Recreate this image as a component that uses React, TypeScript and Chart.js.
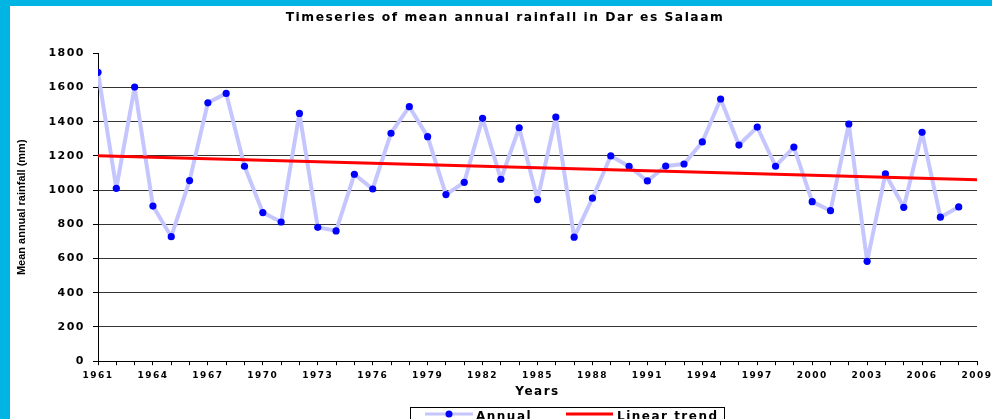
import React, { useEffect, useRef } from 'react';
import { Chart, registerables } from 'chart.js';

Chart.register(...registerables);

const chartTitle = 'Timeseries of mean annual rainfall in Dar es Salaam';
const xAxisTitle = 'Years';
const yAxisTitle = 'Mean annual rainfall (mm)';

const years = [
  1961, 1962, 1963, 1964, 1965, 1966, 1967, 1968, 1969, 1970,
  1971, 1972, 1973, 1974, 1975, 1976, 1977, 1978, 1979, 1980,
  1981, 1982, 1983, 1984, 1985, 1986, 1987, 1988, 1989, 1990,
  1991, 1992, 1993, 1994, 1995, 1996, 1997, 1998, 1999, 2000,
  2001, 2002, 2003, 2004, 2005, 2006, 2007, 2008,
];

const annualRainfall = [
  1689, 1011, 1603, 907, 728, 1056, 1511, 1566, 1140, 869,
  814, 1449, 783, 762, 1093, 1007, 1333, 1488, 1313, 974,
  1046, 1420, 1064, 1365, 945, 1428, 725, 953, 1200, 1140,
  1054, 1141, 1153, 1282, 1533, 1264, 1369, 1140, 1252, 933,
  880, 1387, 584, 1095, 900, 1338, 842, 902,
];

const trendYears = [1961, 2009];
const trendValues = [1202, 1061];

const xTickLabels = [
  '1961', '1964', '1967', '1970', '1973', '1976', '1979', '1982', '1985',
  '1988', '1991', '1994', '1997', '2000', '2003', '2006', '2009',
];
const yTickValues = [0, 200, 400, 600, 800, 1000, 1200, 1400, 1600, 1800];

const FONT = '"DejaVu Sans", "Liberation Sans", sans-serif';

export default function App() {
  const ref = useRef<HTMLCanvasElement>(null);

  useEffect(() => {
    const canvas = ref.current;
    if (!canvas) return;

    const spacing = {
      id: 'letterSpacing',
      beforeLayout(c: any) {
        c.ctx.letterSpacing = '1.5px';
      },
      beforeDraw(c: any) {
        c.ctx.letterSpacing = '1.5px';
      },
    };

    const legendBox = {
      id: 'legendBox',
      afterDraw(c: any) {
        const ctx = c.ctx;
        const ca = c.chartArea;
        const top = Math.round(ca.bottom + 46);
        const ds = c.data.datasets;
        ctx.save();
        ctx.letterSpacing = '1.5px';
        ctx.strokeStyle = '#000';
        ctx.lineWidth = 1;
        ctx.strokeRect(400.5, top + 0.5, 314, 40);
        const y = top + 7;
        ctx.strokeStyle = ds[0].borderColor;
        ctx.lineWidth = 3;
        ctx.beginPath();
        ctx.moveTo(415, y);
        ctx.lineTo(463, y);
        ctx.stroke();
        ctx.fillStyle = ds[0].pointBackgroundColor;
        ctx.beginPath();
        ctx.arc(439, y, 3.5, 0, Math.PI * 2);
        ctx.fill();
        ctx.strokeStyle = ds[1].borderColor;
        ctx.lineWidth = 3;
        ctx.beginPath();
        ctx.moveTo(556, y);
        ctx.lineTo(603, y);
        ctx.stroke();
        ctx.font = `bold 12px ${FONT}`;
        ctx.fillStyle = '#000';
        ctx.textAlign = 'left';
        ctx.textBaseline = 'alphabetic';
        ctx.fillText(ds[0].label, 466, top + 13);
        ctx.fillText(ds[1].label, 607, top + 13);
        ctx.restore();
      },
    };

    const chart = new Chart(canvas, {
      type: 'line',
      data: {
        datasets: [
          {
            label: 'Annual',
            data: years.map((yr, i) => ({ x: yr, y: annualRainfall[i] })),
            borderColor: '#c6c6ff',
            borderWidth: 4,
            borderJoinStyle: 'round',
            borderCapStyle: 'round',
            pointRadius: 3.6,
            pointBackgroundColor: '#0000ff',
            pointBorderColor: '#0000ff',
            pointBorderWidth: 0,
            tension: 0,
            order: 1,
          },
          {
            label: 'Linear trend',
            data: trendYears.map((yr, i) => ({ x: yr, y: trendValues[i] })),
            borderColor: '#ff0000',
            borderWidth: 3,
            pointRadius: 0,
            tension: 0,
            order: 0,
          },
        ],
      },
      options: {
        responsive: false,
        animation: false,
        events: [],
        layout: { padding: { left: 23, right: 47, top: 0, bottom: 34.8 } },
        plugins: {
          legend: { display: false },
          tooltip: { enabled: false },
          title: {
            display: true,
            text: chartTitle,
            color: '#000',
            font: { family: FONT, size: 12.3, weight: 'bold' },
            padding: { top: 4.6, bottom: 28 },
          },
        },
        scales: {
          x: {
            type: 'linear',
            min: 1961,
            max: 2009,
            afterFit: (s: any) => {
              s.height = 40;
            },
            ticks: {
              stepSize: 1,
              autoSkip: false,
              maxRotation: 0,
              minRotation: 0,
              padding: 5,
              color: '#000',
              font: { family: FONT, size: 9, weight: 'bold' },
              callback: (v: any) => (xTickLabels.includes(String(v)) ? String(v) : ''),
            },
            grid: {
              drawOnChartArea: false,
              drawTicks: true,
              tickLength: 4,
              tickColor: '#000',
            },
            border: { display: true, color: '#000', width: 1 },
            title: {
              display: true,
              text: xAxisTitle,
              color: '#000',
              font: { family: FONT, size: 12, weight: 'bold' },
              padding: { top: 0, bottom: 2 },
            },
          },
          y: {
            type: 'linear',
            min: 0,
            max: 1800,
            afterFit: (s: any) => {
              s.width = 65;
            },
            afterUpdate: (s: any) => {
              if (!s._titlePatched) {
                const orig = s.drawTitle.bind(s);
                s.drawTitle = () => {
                  const ctx = s.ctx;
                  const prev = ctx.letterSpacing;
                  ctx.letterSpacing = '0px';
                  orig();
                  ctx.letterSpacing = prev;
                };
                s._titlePatched = true;
              }
            },
            afterBuildTicks: (s: any) => {
              s.ticks = yTickValues.map((v) => ({ value: v }));
            },
            ticks: {
              padding: 8,
              color: '#000',
              font: { family: FONT, size: 11, weight: 'bold' },
              callback: (v: any) => String(v),
            },
            grid: {
              color: (ctx: any) =>
                ctx.tick && (ctx.tick.value === 0 || ctx.tick.value === 1800)
                  ? 'rgba(0,0,0,0)'
                  : '#333',
              tickColor: '#000',
              tickLength: 5,
              lineWidth: 1,
            },
            border: { display: true, color: '#000', width: 1 },
            title: {
              display: true,
              text: yAxisTitle,
              color: '#000',
              font: {
                family: '"Liberation Sans", Arial, sans-serif',
                size: 11,
                weight: 'bold',
              },
              padding: { top: -17.8, bottom: 0 },
            },
          },
        },
      } as any,
      plugins: [spacing, legendBox],
    });

    return () => {
      chart.destroy();
    };
  }, []);

  return (
    <div
      style={{
        position: 'fixed',
        left: 0,
        top: 0,
        width: 992,
        height: 419,
        background: '#00b4e4',
        overflow: 'hidden',
      }}
    >
      <div
        style={{
          position: 'absolute',
          left: 10,
          top: 6,
          width: 982,
          height: 413,
          background: '#fff',
          overflow: 'hidden',
        }}
      >
        <canvas ref={ref} width={1014} height={430} style={{ display: 'block' }} />
      </div>
    </div>
  );
}
